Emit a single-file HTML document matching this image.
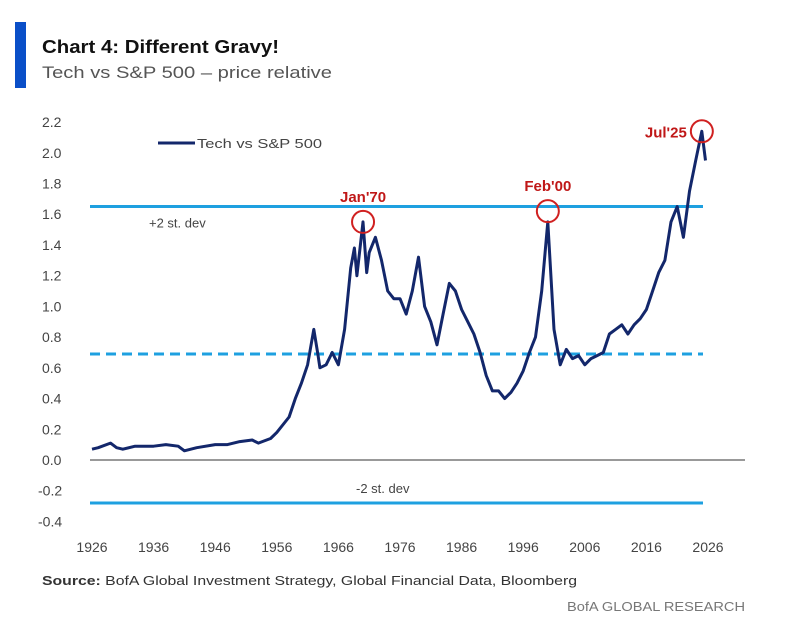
<!DOCTYPE html>
<html><head><meta charset="utf-8"><style>
html,body{margin:0;padding:0;background:#fff;}
svg{display:block;font-family:"Liberation Sans",sans-serif;}
</style></head><body>
<svg width="800" height="633" viewBox="0 0 800 633">
<rect x="15" y="22" width="11" height="66" fill="#0a4fc8"/>
<text x="42" y="53" font-size="18" font-weight="bold" fill="#111" textLength="237" lengthAdjust="spacingAndGlyphs">Chart 4: Different Gravy!</text>
<text x="42" y="78" font-size="17" fill="#555" textLength="290" lengthAdjust="spacingAndGlyphs">Tech vs S&amp;P 500 – price relative</text>
<g id="yticks"></g>
<g id="xticks"></g>
<line x1="90" y1="460" x2="745" y2="460" stroke="#999" stroke-width="2"/>
<g id="refs"></g>
<path id="series" fill="none" stroke="#13276b" stroke-width="3" stroke-linejoin="round"/>
<g id="annots"></g>
<line x1="158" y1="143" x2="195" y2="143" stroke="#13276b" stroke-width="3"/>
<text x="197" y="148" font-size="13" fill="#444" textLength="125" lengthAdjust="spacingAndGlyphs">Tech vs S&amp;P 500</text>
<text x="42" y="585" font-size="13" fill="#333" textLength="535" lengthAdjust="spacingAndGlyphs"><tspan font-weight="bold">Source:</tspan> BofA Global Investment Strategy, Global Financial Data, Bloomberg</text>
<text x="745" y="611" font-size="13" fill="#777" text-anchor="end" textLength="178" lengthAdjust="spacingAndGlyphs">BofA GLOBAL RESEARCH</text>
</svg>
<script>
const years=[1926,1927,1929,1930,1931,1933,1936,1938,1940,1941,1943,1946,1948,1950,1952,1953,1955,1956,1958,1959,1960,1961,1962,1962.7,1963,1964,1965,1966,1967,1968,1968.6,1969,1970,1970.6,1971,1972,1973,1974,1975,1976,1977,1978,1979,1980,1981,1982,1983,1984,1985,1986,1987,1988,1989,1990,1991,1992,1993,1994,1995,1996,1997,1998,1999,2000,2001,2002,2003,2004,2005,2006,2007,2008,2009,2010,2011,2012,2013,2014,2015,2016,2017,2018,2019,2020,2021,2022,2023,2024,2025,2025.6];
const values=[0.07,0.08,0.11,0.08,0.07,0.09,0.09,0.10,0.09,0.06,0.08,0.10,0.10,0.12,0.13,0.11,0.14,0.18,0.28,0.40,0.50,0.62,0.85,0.68,0.60,0.62,0.70,0.62,0.85,1.25,1.38,1.20,1.55,1.22,1.35,1.45,1.30,1.10,1.05,1.05,0.95,1.10,1.32,1.00,0.90,0.75,0.95,1.15,1.10,0.98,0.90,0.82,0.70,0.55,0.45,0.45,0.40,0.44,0.50,0.58,0.70,0.80,1.10,1.55,0.85,0.62,0.72,0.66,0.68,0.62,0.66,0.68,0.70,0.82,0.85,0.88,0.82,0.88,0.92,0.98,1.10,1.22,1.30,1.55,1.65,1.45,1.75,1.95,2.14,1.95];
const yTicks=["2.2","2.0","1.8","1.6","1.4","1.2","1.0","0.8","0.6","0.4","0.2","0.0","-0.2","-0.4"];
const xTicks=[1926,1936,1946,1956,1966,1976,1986,1996,2006,2016,2026];
const refValues=[1.65,0.69,-0.28];
const refLabels=["+2 st. dev","","-2 st. dev"];
const annotYears=[1970,2000,2025];
const annotValues=[1.55,1.62,2.14];
const annotLabels=["Jan'70","Feb'00","Jul'25"];
const NS="http://www.w3.org/2000/svg";
const X=y=>92+(y-1926)*6.16;
const Y=v=>460-v*153.6;
function mk(t,a,p,txt){const e=document.createElementNS(NS,t);for(const k in a)e.setAttribute(k,a[k]);if(txt!==undefined)e.textContent=txt;p.appendChild(e);return e;}
const yg=document.getElementById('yticks');
yTicks.forEach(t=>{const e=mk('text',{x:parseFloat(t)<0?38:42,y:Y(parseFloat(t))+5,'font-size':14,fill:'#444'},yg,t);

});
const xg=document.getElementById('xticks');
xTicks.forEach(t=>{const e=mk('text',{x:X(t),y:552,'font-size':14,fill:'#444','text-anchor':'middle'},xg,String(t));

});
const rg=document.getElementById('refs');
refValues.forEach((v,i)=>{const l=mk('line',{x1:90,x2:703,y1:Y(v),y2:Y(v),stroke:'#1ea0e0','stroke-width':3},rg);
if(i==1){l.setAttribute('stroke-dasharray','10,6');}


if(refLabels[i]){const t=mk('text',{x:i==0?149:356,y:i==0?Y(v)+21:Y(v)-10,'font-size':13,fill:'#444'},rg,refLabels[i]);

}});
document.getElementById('series').setAttribute('d',years.map((y,i)=>(i?'L':'M')+X(y).toFixed(1)+','+Y(values[i]).toFixed(1)).join(''));
const ag=document.getElementById('annots');
annotYears.forEach((y,i)=>{const c=mk('circle',{cx:X(y),cy:Y(annotValues[i]),r:11,fill:'none',stroke:'#d02020','stroke-width':2},ag);


const t=mk('text',{x:i==2?X(y)-36:X(y),y:i==2?Y(annotValues[i])+6:Y(annotValues[i])-20,'font-size':15,'font-weight':'bold',fill:'#c01818','text-anchor':'middle'},ag,annotLabels[i]);

});
</script>
</body></html>
